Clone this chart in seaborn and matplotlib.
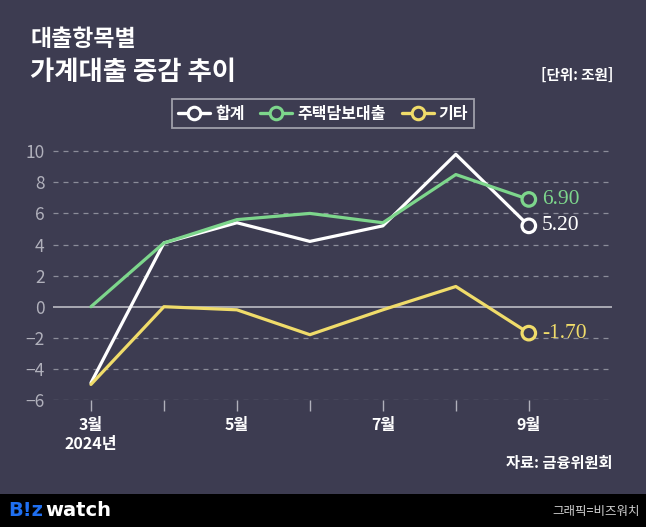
import numpy as np
import pandas as pd
import seaborn as sns
import matplotlib.pyplot as plt
from matplotlib.lines import Line2D
from matplotlib.patches import Rectangle

months = ['3월\n2024년', '', '5월', '', '7월', '', '9월']
total = [-4.9, 4.1, 5.4, 4.2, 5.2, 9.8, 5.2]
mortgage = [0.0, 4.1, 5.6, 6.0, 5.4, 8.5, 6.9]
others = [-5.0, 0.0, -0.2, -1.8, -0.2, 1.3, -1.7]
series_names = ['합계', '주택담보대출', '기타']

bg = '#3d3c51'
colors = {'합계': '#ffffff', '주택담보대출': '#7dd68c', '기타': '#f0dc6a'}

sns.set_theme(style='dark')
plt.rcParams['font.family'] = ['Noto Sans CJK KR', 'DejaVu Sans']

df = pd.DataFrame({'idx': np.arange(len(months)), '합계': total,
                   '주택담보대출': mortgage, '기타': others})
long = df.melt(id_vars='idx', var_name='series', value_name='value')

fig = plt.figure(figsize=(6.46, 5.27), dpi=100, facecolor=bg)
ax = fig.add_axes([53 / 646, 1 - 400 / 527, (612 - 53) / 646, (400 - 138) / 527])
ax.set_facecolor(bg)

# grid + zero line
for v in range(-6, 11, 2):
    if v == 0:
        ax.axhline(0, color='#a9a9b3', lw=1.4, zorder=1)
    else:
        ax.axhline(v, color='#8c8c99', lw=0.9, ls=(0, (4, 4)), zorder=1)

sns.lineplot(data=long, x='idx', y='value', hue='series', palette=colors,
             hue_order=series_names, lw=2.3, legend=False, ax=ax, zorder=3)

last = long[long['idx'] == len(months) - 1]
sns.scatterplot(data=last, x='idx', y='value', hue='series', palette=colors,
                hue_order=series_names, s=95, marker='o', facecolor=bg,
                linewidth=2.3, legend=False, ax=ax, zorder=4)
for _, r in last.iterrows():
    ax.text(r['idx'] + 0.18, r['value'], f"{r['value']:.2f}", color=colors[r['series']],
            fontsize=15.5, family='Liberation Serif', va='center', ha='left', zorder=5)
# edgecolor for scatter points
for coll in ax.collections:
    coll.set_edgecolors([colors[s] for s in series_names])
    coll.set_facecolors(bg)

ax.set_xlim(-0.52, 7.14)
ax.set_ylim(-6, 10.85)
ax.set_yticks(range(-6, 11, 2))
ax.set_yticklabels([str(v).replace('-', '−') for v in range(-6, 11, 2)])
ax.set_xticks(range(len(months)))
ax.set_xticklabels(months)
ax.tick_params(axis='y', length=0, pad=6, labelcolor='#b0b0bb', labelsize=12.5)
ax.tick_params(axis='x', length=8, width=1, color='#b0b0bb', direction='out',
               pad=4, labelcolor='#ffffff', labelsize=11.5, bottom=True)
for lab in ax.get_xticklabels():
    lab.set_fontweight('bold')
    lab.set_linespacing(1.25)
for s in ax.spines.values():
    s.set_visible(False)
ax.grid(False)
ax.set_xlabel('')
ax.set_ylabel('')

handles = [Line2D([], [], color=colors[s], lw=2.4, marker='o', ms=9, mfc=bg,
                  mec=colors[s], mew=2.2) for s in series_names]
leg = fig.legend(handles, series_names, loc='center', bbox_to_anchor=(323 / 646, 1 - 113.5 / 527),
                 ncol=3, frameon=True, fontsize=11.5, handlelength=2.0, handletextpad=0.3,
                 columnspacing=1.0, borderpad=0.4, fancybox=False)
leg.get_frame().set_facecolor(bg)
leg.get_frame().set_edgecolor('#b8b8c0')
leg.get_frame().set_linewidth(1.3)
for t in leg.get_texts():
    t.set_color('white')
    t.set_fontweight('bold')

# titles
fig.text(30 / 646, 1 - 40 / 527, '대출항목별', color='white', fontsize=16.5, fontweight='bold', va='center')
fig.text(30 / 646, 1 - 72 / 527, '가계대출 증감 추이', color='white', fontsize=19, fontweight='bold', va='center')
fig.text(613 / 646, 1 - 75 / 527, '[단위: 조원]', color='white', fontsize=10.5, fontweight='bold',
         va='center', ha='right')
fig.text(613 / 646, 1 - 463 / 527, '자료: 금융위원회', color='white', fontsize=11, fontweight='bold',
         va='center', ha='right')

# footer bar
fig.patches.append(Rectangle((0, 0), 1, 33 / 527, transform=fig.transFigure, facecolor='black',
                             edgecolor='none', zorder=0))
fig.text(8 / 646, 1 - 511 / 527, 'B!z', color='#1f6ff0', fontsize=14, fontweight='bold',
         va='center', family='DejaVu Sans')
fig.text(45 / 646, 1 - 511 / 527, 'watch', color='white', fontsize=14, fontweight='bold',
         va='center', family='DejaVu Sans')
fig.text(640 / 646, 1 - 511 / 527, '그래픽=비즈워치', color='#cfcfcf', fontsize=9,
         va='center', ha='right')

fig.savefig('out.png', dpi=100, facecolor=bg)
